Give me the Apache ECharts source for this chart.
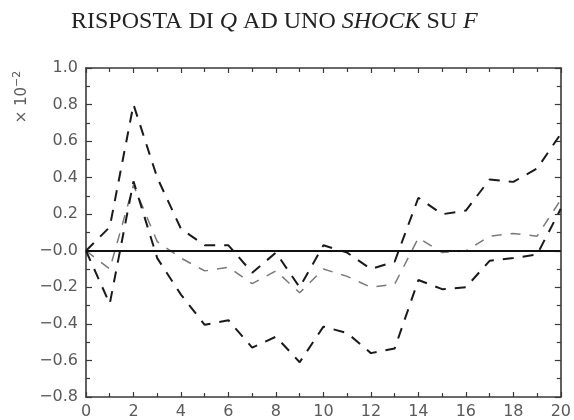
<!DOCTYPE html>
<html>
<head>
<meta charset="utf-8">
<script src="https://cdn.jsdelivr.net/npm/echarts@6/dist/echarts.min.js"></script>
<style>
  html, body { margin: 0; padding: 0; background: #ffffff; }
  #chart { width: 574px; height: 420px; }
</style>
</head>
<body>
<div id="chart"></div>
<script>
// Impulse response of Q to a shock on F (values in units of 10^-2)
const horizons = [0,1,2,3,4,5,6,7,8,9,10,11,12,13,14,15,16,17,18,19,20];
const upperBand = [0, 0.13, 0.80, 0.40, 0.12, 0.03, 0.03, -0.12, -0.01, -0.20, 0.03, -0.01, -0.10, -0.06, 0.29, 0.20, 0.22, 0.39, 0.377, 0.45, 0.64];
const response  = [0, -0.10, 0.36, 0.05, -0.04, -0.11, -0.09, -0.18, -0.11, -0.23, -0.10, -0.14, -0.20, -0.183, 0.07, -0.01, 0.00, 0.08, 0.095, 0.08, 0.28];
const lowerBand = [0, -0.29, 0.38, -0.04, -0.24, -0.405, -0.38, -0.53, -0.47, -0.61, -0.415, -0.45, -0.56, -0.535, -0.16, -0.21, -0.20, -0.055, -0.04, -0.02, 0.23];
const xTicks = [0, 20, 2];
const yTicks = [-0.8, 1.0, 0.2];

const pairs = arr => horizons.map((h, i) => [h, arr[i]]);

const frameColor = '#3a3a3a';
const labelColor = '#5a5a5a';
const labelFont = 'DejaVu Sans';

function yLabel(v) {
  const r = Math.round(v * 10) / 10;
  return (r <= 0 ? '\u2212' : '') + Math.abs(r).toFixed(1);
}

function makeX(pos, showLabels) {
  return {
    type: 'value', position: pos, min: xTicks[0], max: xTicks[1], interval: xTicks[2],
    axisLine: { show: true, onZero: false, lineStyle: { color: frameColor, width: 1.6 } },
    axisTick: { show: true, inside: true, length: 5, lineStyle: { color: frameColor, width: 1.2 } },
    minorTick: { show: true, splitNumber: 2, length: 4, lineStyle: { color: frameColor, width: 1.2 } },
    axisLabel: { show: showLabels, color: labelColor, fontFamily: labelFont, fontSize: 16, margin: 7 },
    splitLine: { show: false }
  };
}
function makeY(pos, showLabels) {
  return {
    type: 'value', position: pos, min: yTicks[0], max: yTicks[1], interval: yTicks[2],
    axisLine: { show: true, onZero: false, lineStyle: { color: frameColor, width: 1.6 } },
    axisTick: { show: true, inside: true, length: 6, lineStyle: { color: frameColor, width: 1.2 } },
    minorTick: { show: true, splitNumber: 2, length: 4, lineStyle: { color: frameColor, width: 1.2 } },
    axisLabel: { show: showLabels, color: labelColor, fontFamily: labelFont, fontSize: 16, margin: 8, formatter: yLabel },
    splitLine: { show: false }
  };
}

const chart = echarts.init(document.getElementById('chart'), null, { renderer: 'canvas' });
chart.setOption({
  animation: false,
  backgroundColor: '#ffffff',
  title: {
    text: 'RISPOSTA DI {i|Q} AD UNO {i|SHOCK} SU {i|F}',
    left: 66, top: 5,
    textStyle: {
      fontFamily: 'Liberation Serif', fontSize: 24, fontWeight: 'normal', color: '#222222',
      rich: { i: { fontFamily: 'Liberation Serif', fontSize: 24, fontStyle: 'italic', color: '#222222' } }
    }
  },
  graphic: [{
    type: 'text', x: 22, y: 97, rotation: Math.PI / 2,
    style: {
      text: '\u00d7 10{s|\u22122}',
      fill: labelColor, font: '15px "DejaVu Sans"', align: 'center', verticalAlign: 'middle',
      rich: { s: { fontSize: 11, fontFamily: 'DejaVu Sans', fill: labelColor, verticalAlign: 'top', padding: [0, 0, 9, 0] } }
    }
  }],
  grid: { left: 86, right: 12, top: 68, bottom: 21 },
  xAxis: [makeX('bottom', true), makeX('top', false)],
  yAxis: [makeY('left', true), makeY('right', false)],
  series: [
    {
      type: 'line', name: 'response', data: pairs(response), symbol: 'none',
      lineStyle: { color: '#7a7a7a', width: 1.5, type: [10, 9] },
      markLine: {
        silent: true, symbol: 'none', label: { show: false },
        lineStyle: { color: '#111111', width: 1.8, type: 'solid' },
        data: [{ yAxis: 0 }]
      },
      z: 3
    },
    {
      type: 'line', name: 'upper', data: pairs(upperBand), symbol: 'none',
      lineStyle: { color: '#1a1a1a', width: 2, type: [11, 9] }, z: 4
    },
    {
      type: 'line', name: 'lower', data: pairs(lowerBand), symbol: 'none',
      lineStyle: { color: '#1a1a1a', width: 2, type: [11, 9] }, z: 4
    }
  ]
});
</script>
</body>
</html>
